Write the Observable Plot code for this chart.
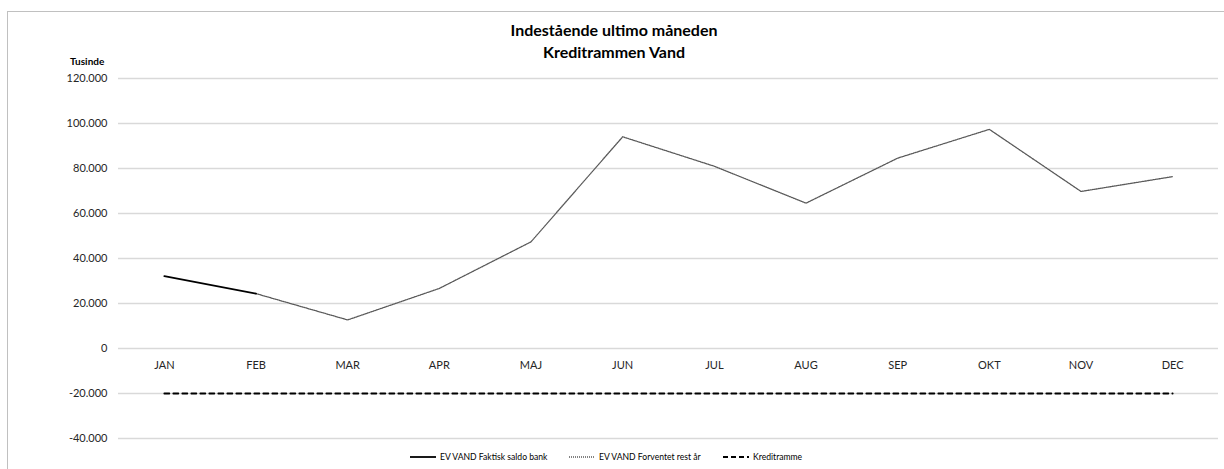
<!DOCTYPE html>
<html>
<head>
<meta charset="utf-8">
<script src="https://cdn.jsdelivr.net/npm/d3@7"></script>
<script src="https://cdn.jsdelivr.net/npm/@observablehq/plot@0.6"></script>
<style>
  html, body { margin: 0; padding: 0; background: #fff; }
  body { font-family: Lato, "Open Sans", sans-serif; color: #000; }
  #wrap { position: relative; width: 1224px; height: 469px; overflow: hidden; }
  #frame { position: absolute; left: 7px; top: 11px; width: 1230px; height: 470px;
           border-left: 1px solid #c0c0c0; border-top: 1px solid #c0c0c0; box-sizing: border-box; }
  #chart { position: absolute; left: 0; top: 0; }
  .title { position: absolute; left: 0; width: 1228px; text-align: center; font-weight: bold; font-size: 16px; color: #000; }
  #unit { position: absolute; left: 70px; top: 55px; font-weight: bold; font-size: 10px; }
  .leg { position: absolute; top: 452px; font-size: 8.6px; color: #000; display: flex; align-items: center; white-space: nowrap; }
  .leg svg { margin-right: 3px; }
</style>
</head>
<body>
<div id="wrap">
  <div id="frame"></div>
  <div id="chart"></div>
  <div class="title" style="top:20px">Indestående ultimo måneden</div>
  <div class="title" style="top:42px">Kreditrammen Vand</div>
  <div id="unit">Tusinde</div>
  <div id="legend"></div>
</div>
<script>
const months = ["JAN","FEB","MAR","APR","MAJ","JUN","JUL","AUG","SEP","OKT","NOV","DEC"];
const faktisk = [32200, 24400, null, null, null, null, null, null, null, null, null, null];
const forventet = [null, 24400, 12700, 26700, 47400, 94100, 81000, 64600, 84600, 97400, 69800, 76400];
const kreditramme = [-20000, -20000, -20000, -20000, -20000, -20000, -20000, -20000, -20000, -20000, -20000, -20000];
const yTicks = [-40000, -20000, 0, 20000, 40000, 60000, 80000, 100000, 120000];
const seriesNames = ["EV VAND Faktisk saldo bank", "EV VAND Forventet rest år", "Kreditramme"];

const loc = d3.formatLocale({decimal: ",", thousands: ".", grouping: [3], currency: ["", " kr"], minus: "-"});
const fmt = loc.format(",");

const rows = (vals) => months.map((m, i) => ({month: m, value: vals[i]})).filter(d => d.value != null);

const plot = Plot.plot({
  width: 1224,
  height: 469,
  marginTop: 78,
  marginBottom: 31,
  marginLeft: 118,
  marginRight: 6,
  style: {fontFamily: "Lato, 'Open Sans', sans-serif", fontSize: "11px", color: "#000", background: "transparent"},
  x: {type: "point", domain: months, padding: 0.5, round: false, axis: null},
  y: {domain: [-40000, 120000], axis: null},
  marks: [
    Plot.gridY(yTicks, {stroke: "#d9d9d9", strokeOpacity: 1, strokeWidth: 1.5}),
    Plot.axisY(yTicks, {tickSize: 0, tickPadding: 11, tickFormat: fmt, fontSize: 11, fill: "#262626", label: null}),
    Plot.text(months, {x: d => d, y: () => 0, dy: 17, text: d => d, fontSize: 11, fill: "#262626"}),
    Plot.line(rows(kreditramme), {x: "month", y: "value", stroke: "#000", strokeWidth: 1.8, strokeDasharray: "5,4"}),
    Plot.line(rows(forventet), {x: "month", y: "value", stroke: "#595959", strokeWidth: 1.3, strokeDasharray: "1,1"}),
    Plot.line(rows(faktisk), {x: "month", y: "value", stroke: "#000", strokeWidth: 1.8})
  ]
});
document.getElementById("chart").appendChild(plot);

const legendDefs = [
  {name: seriesNames[0], left: 410, dash: null, width: 1.8, color: "#000"},
  {name: seriesNames[1], left: 569, dash: "1,1", width: 1.3, color: "#595959"},
  {name: seriesNames[2], left: 723, dash: "5,3", width: 1.8, color: "#000"}
];
const leg = document.getElementById("legend");
legendDefs.forEach(d => {
  const div = document.createElement("div");
  div.className = "leg";
  div.style.left = d.left + "px";
  const svg = d3.create("svg").attr("width", 27).attr("height", 10);
  svg.append("line").attr("x1", 0).attr("x2", 26).attr("y1", 5).attr("y2", 5)
    .attr("stroke", d.color).attr("stroke-width", d.width)
    .attr("stroke-dasharray", d.dash);
  div.appendChild(svg.node());
  const span = document.createElement("span");
  span.textContent = d.name;
  div.appendChild(span);
  leg.appendChild(div);
});
</script>
</body>
</html>
